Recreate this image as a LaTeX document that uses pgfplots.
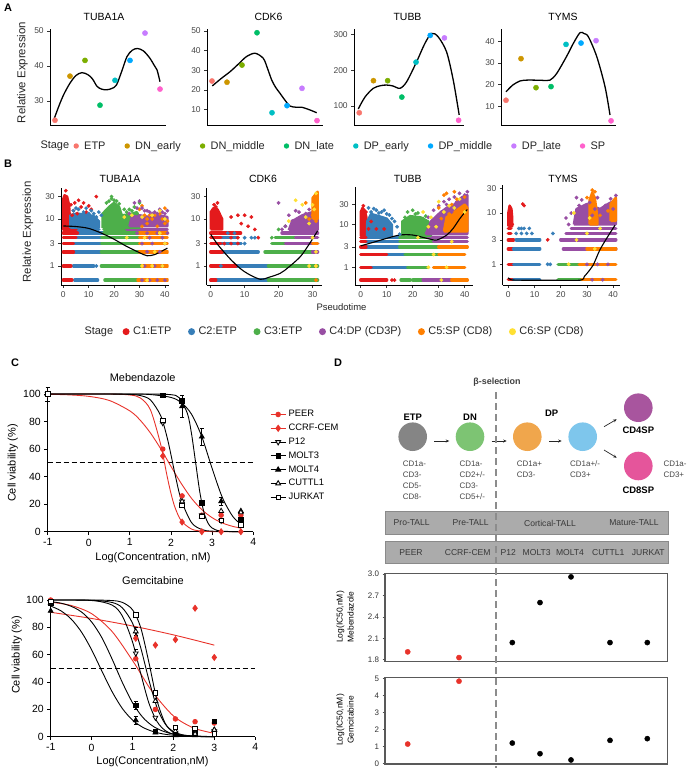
\documentclass[border=0pt]{standalone}
\usepackage{fontspec}
\setmainfont{Liberation Sans}
\usepackage{pgfplots}
\pgfplotsset{compat=1.18}
\usetikzlibrary{arrows.meta}
\newcommand{\fs}[1]{\fontsize{#1}{#1}\selectfont}
\newcommand{\fsl}[2]{\fontsize{#1}{#2}\selectfont}
\newcommand{\legdot}[3]{\addlegendimage{legend image code/.code={\fill[fill=#1, draw=none] (0bp,0bp) circle (#2); \path[draw=none, fill=none] (-#2,0bp) -- (#3,0bp);}}}
% panel A (ggplot hues)
\definecolor{sETP}{HTML}{F8766D}
\definecolor{sDNe}{HTML}{CD9600}
\definecolor{sDNm}{HTML}{7CAE00}
\definecolor{sDNl}{HTML}{00BE67}
\definecolor{sDPe}{HTML}{00BFC4}
\definecolor{sDPm}{HTML}{00A9FF}
\definecolor{sDPl}{HTML}{C77CFF}
\definecolor{sSP}{HTML}{FF61CC}
% panel B (Set1)
\definecolor{cA}{HTML}{E41A1C}
\definecolor{cB}{HTML}{377EB8}
\definecolor{cC}{HTML}{4DAF4A}
\definecolor{cD}{HTML}{984EA3}
\definecolor{cE}{HTML}{FF7F00}
\definecolor{cF}{HTML}{FFE033}
% panel C/D
\definecolor{gred}{HTML}{E8322A}
\definecolor{boxg}{HTML}{ABABAB}
\definecolor{boxb}{HTML}{8A8A8A}
\definecolor{cirETP}{HTML}{858585}
\definecolor{cirDN}{HTML}{7DC473}
\definecolor{cirDP}{HTML}{F0A64C}
\definecolor{cirBL}{HTML}{7EC6EC}
\definecolor{cir4}{HTML}{A8559E}
\definecolor{cir8}{HTML}{E5559B}

\pgfplotsset{
  mybase/.style={scale only axis, axis lines=left, axis line style={-, line width=0.7bp, black},
    tick align=outside, major tick length=2.8bp, tick style={black!80, line width=0.6bp},
    tick label style={font=\fs{8.5}, color=black!72}},
  mypA/.style={mybase, xtick=\empty, clip=false},
  adots/.style={forget plot, scatter, only marks, point meta=explicit symbolic, mark=*, mark size=2.6bp,
    scatter/classes={a={sETP}, b={sDNe}, c={sDNm}, d={sDNl}, e={sDPe}, f={sDPm}, g={sDPl}, h={sSP}}},
  acurve/.style={forget plot, smooth, black, line width=1.3bp, no marks},
  mypB/.style={mybase, ytick={1,3,10,30}, yticklabels={1,3,10,30}},
  band/.style={forget plot, no marks, line width=3.4bp, line cap=round, unbounded coords=jump},
  cloud/.style={forget plot, no marks, line width=2.4bp, line join=round},
  bdot/.style={forget plot, only marks, mark=*, mark size=1.7bp},
  bcurve/.style={forget plot, smooth, black, line width=1.1bp, no marks},
  mypC/.style={mybase, clip=false, xmin=-1, xmax=4, ymin=0, ymax=100, xtick={-1,0,1,2,3,4}, ytick={0,20,40,60,80,100},
    tick label style={font=\fs{10.5}, color=black}, axis line style={line width=1bp}, major tick length=3.5bp,
    tick style={black, line width=0.9bp}},
  ccurve/.style={forget plot, smooth, no marks, line width=0.9bp},
  cpts/.style={forget plot, only marks, line width=0.8bp},
  mypD/.style={scale only axis, axis lines=box, axis line style={line width=1.1bp, black!65}, xtick=\empty,
    ytick pos=left, tick align=outside, major tick length=2.5bp, tick style={black!70, line width=0.7bp},
    tick label style={font=\fs{8}, color=black!80}, xmin=385, xmax=667.3, clip=false},
}
\pgfplotsset{/pgf/number format/assume math mode=true}

\begin{document}
\begin{tikzpicture}
\useasboundingbox (0,0) rectangle (693bp,-772bp);
% ---------- panel letters
\node[font=\bfseries\fs{11}] at (8bp,-8bp) {A};
\node[font=\bfseries\fs{11}] at (8bp,-164bp) {B};
\node[font=\bfseries\fs{11}] at (15bp,-363bp) {C};
\node[font=\bfseries\fs{11}] at (338bp,-363bp) {D};

% ---------- panel A titles / labels
\node[font=\fs{10.5}] at (104bp,-16.7bp) {TUBA1A};
\node[font=\fs{10.5}] at (268.5bp,-16.7bp) {CDK6};
\node[font=\fs{10.5}] at (407.5bp,-16.7bp) {TUBB};
\node[font=\fs{10.5}] at (563bp,-16.7bp) {TYMS};
\node[font=\fs{11.5}, rotate=90, text=black!85] at (22.5bp,-72.5bp) {Relative Expression};
\node[font=\fs{11}, anchor=west, text=black!85] at (37bp,-146bp) {Stage};

% A1 TUBA1A
\begin{axis}[mypA, at={(50bp,-125bp)}, anchor=south west, width=116bp, height=96bp,
  xmin=0.667, xmax=8.4, ymin=23.14, ymax=50.57, ytick={30,40,50},
  legend columns=-1,
  legend style={at={(axis description cs:0.2009,-0.2188)}, anchor=west, draw=none, fill=none, inner sep=0pt,
    font=\fs{11}, nodes={inner xsep=2bp, inner ysep=0bp, text=black!85},
    /tikz/every even column/.append style={column sep=17bp}}]
\addplot[acurve] coordinates {(0.95,25)(1.3,29)(1.6,32)(2,35.1)(2.4,37.3)(2.8,38.1)(3.2,37.5)(3.5,36.3)(3.8,34.2)(4.1,33.4)(4.45,33.2)(4.8,33.6)(5.1,34.6)(5.45,38.5)(5.8,42.7)(6.15,44.5)(6.5,45)(6.9,44.3)(7.33,42.2)(7.6,40.3)(7.8,38.9)(8,35.5)};
\addplot[adots] table[meta=c] {
x y c
1 24.5 a
2 37.1 b
3 41.6 c
4 28.8 d
5 35.9 e
6 41.6 f
7 49.4 g
8 33.4 h
};
\legdot{sETP}{2.7bp}{6bp}\addlegendentry{ETP}
\legdot{sDNe}{2.7bp}{6bp}\addlegendentry{DN\_early}
\legdot{sDNm}{2.7bp}{6bp}\addlegendentry{DN\_middle}
\legdot{sDNl}{2.7bp}{6bp}\addlegendentry{DN\_late}
\legdot{sDPe}{2.7bp}{6bp}\addlegendentry{DP\_early}
\legdot{sDPm}{2.7bp}{6bp}\addlegendentry{DP\_middle}
\legdot{sDPl}{2.7bp}{6bp}\addlegendentry{DP\_late}
\legdot{sSP}{2.7bp}{6bp}\addlegendentry{SP}
\end{axis}

% A2 CDK6
\begin{axis}[mypA, at={(207bp,-125bp)}, anchor=south west, width=116bp, height=96bp,
  xmin=0.667, xmax=8.4, ymin=2.28, ymax=51.0, ytick={10,20,30,40,50}]
\addplot[acurve] coordinates {(1.02,22.1)(1.6,25.8)(2.2,29.3)(2.8,33.5)(3.3,37)(3.87,38.7)(4.42,36.1)(4.7,31)(4.98,25.1)(5.25,21.3)(5.53,18.4)(5.9,14.5)(6.2,11.9)(6.6,11.3)(6.98,11.3)(7.5,10)(7.98,8.5)};
\addplot[adots] table[meta=c] {
x y c
1 24.6 a
2 24.0 b
3 32.7 c
4 49.1 d
5 8.5 e
6 12.1 f
7 20.9 g
8 4.5 h
};
\end{axis}

% A3 TUBB
\begin{axis}[mypA, at={(354bp,-125bp)}, anchor=south west, width=110bp, height=96bp,
  xmin=0.63, xmax=8.38, ymin=46.7, ymax=316, ytick={100,200,300}]
\addplot[acurve] coordinates {(0.93,91.6)(1.4,125)(1.99,149.6)(2.5,157)(2.93,158.8)(3.39,156)(3.87,149.6)(4.34,168)(5.04,224)(5.63,276)(6.1,303.6)(6.56,294)(7.15,252)(7.62,173)(8.04,75)};
\addplot[adots] table[meta=c] {
x y c
1 81 a
2 171 b
3 171 c
4 125 d
5 223 e
6 298 f
7 291 g
8 60 h
};
\end{axis}

% A4 TYMS
\begin{axis}[mypA, at={(501bp,-125bp)}, anchor=south west, width=115bp, height=96bp,
  xmin=0.667, xmax=8.33, ymin=1.37, ymax=45.7, ytick={10,20,30,40}]
\addplot[acurve] coordinates {(1,16.7)(1.45,19.8)(1.93,21.7)(2.4,22.1)(2.82,22.1)(3.4,22)(3.93,22.1)(4.38,25.2)(5.05,33.2)(5.49,39.1)(5.93,44)(6.2,43.6)(6.49,42.1)(7.05,32.9)(7.6,19)(7.93,6)};
\addplot[adots] table[meta=c] {
x y c
1 12.8 a
2 32 b
3 18.6 c
4 19.1 d
5 38.6 e
6 39.2 f
7 40.3 g
8 3.3 h
};
\end{axis}

% ---------- panel B titles / labels
\node[font=\fs{10.5}] at (120bp,-179bp) {TUBA1A};
\node[font=\fs{10.5}] at (263bp,-179bp) {CDK6};
\node[font=\fs{10.5}] at (407.7bp,-179bp) {TUBB};
\node[font=\fs{10.5}] at (563bp,-179bp) {TYMS};
\node[font=\fs{11.5}, rotate=90, text=black!85] at (28bp,-232bp) {Relative Expression};
\node[font=\fs{9.5}, text=black!85] at (341.5bp,-307bp) {Pseudotime};
\node[font=\fs{11}, anchor=west, text=black!85] at (81bp,-331.7bp) {Stage};

% B1 TUBA1A
\begin{axis}[ymode=log, mypB, at={(61bp,-285bp)}, anchor=south west, width=107.7bp, height=97bp,
  xmin=-0.9, xmax=41.5, ymin=0.394, ymax=45.6, xtick={0,10,20,30,40},
  legend columns=-1,
  legend style={at={(axis description cs:0.5700,-0.481)}, anchor=west, draw=none, fill=none, inner sep=0pt,
    font=\fs{11}, nodes={inner xsep=2bp, inner ysep=0bp, text=black!85},
    /tikz/every even column/.append style={column sep=14.6bp}}]
\addplot[band,cB] coordinates {(4.5,0.5)(13.5,0.5)(0,nan)(4,1)(12,1)(0,nan)(4,2)(15,2)(0,nan)(4,3)(15,3)(0,nan)(4,4)(15,4)(0,nan)(4,5)(16,5)(0,nan)(4,6)(14,6)};
\addplot[band,cA] coordinates {(0,0.5)(3.4,0.5)(0,nan)(0,1)(3,1)(0,nan)(0,2)(4,2)(0,nan)(0,3)(4,3)(0,nan)(0,4)(5,4)(0,nan)(0,5)(5.5,5)(0,nan)(0,6)(5,6)};
\addplot[band,cC] coordinates {(16.4,0.5)(29.4,0.5)(0,nan)(15,1)(31,1)(0,nan)(15,2)(30,2)(0,nan)(15,3)(30,3)(0,nan)(15,4)(30,4)(0,nan)(16,5)(30,5)(0,nan)(16,6)(29,6)};
\addplot[band,cE] coordinates {(29.4,0.5)(41,0.5)(0,nan)(31,1)(41,1)(0,nan)(30,2)(41,2)(0,nan)(30,3)(41,3)(0,nan)(30,4)(41,4)(0,nan)(30,5)(41,5)};
\addplot[band,cD] coordinates {(25,6)(41,6)};
\addplot[cloud,draw=cA,fill=cA] coordinates {(0,6)(0,27)(0.5,32)(1.5,30)(2.3,20)(2.6,10)(2.6,6)(0,6)};
\addplot[cloud,draw=cB,fill=cB] coordinates {(2.8,6.5)(2.8,12)(5,13)(9,12.5)(12,11.5)(14,9)(14,6.5)(2.8,6.5)};
\addplot[cloud,draw=cC,fill=cC] coordinates {(15.5,6.5)(15.5,13)(18,18)(20,22)(22,18)(23,12)(26,12.5)(29,14)(30,10)(30,6.5)(15.5,6.5)};
\addplot[cloud,draw=cD,fill=cD] coordinates {(26,7)(27,11)(30,12)(34,11)(38,12)(41,11)(41,7)(26,7)};
\addplot[bdot,cA] coordinates {(3,20)(4,15)(4.5,22)(5.5,13)(6,25)(7,18)(8,22)(9,14)(10,19)(13,30)(1,40)(3.5,12)(11,16)};
\addplot[bdot,cB] coordinates {(4,15)(6,16)(8,14)(10,13)(11,15)(12,13)(13,11)(9,17)(5,17)(15,12)(14,14)(11,0.5)(13,1)};
\addplot[bdot,cC] coordinates {(17,22)(19,30)(20,25)(21,24)(22,21)(18,24)(24,16)(25,14)(26,16)(27,15)(28,18)(29,13)(30,22)(19,27)};
\addplot[bdot,cE] coordinates {(30,16)(31,19)(32,12)(34,12)(36,12)(38,13)(40,17)(33,10)(35,10)(39,10)(41,9)(31,7)(33,8)(37,7)(40,8)};
\addplot[bdot,cD] coordinates {(28,22)(30,24)(31,17)(33,15)(34,14)(36,14)(38,16)(40,13)(41,15)(35,13)(37,13)(39,14)(32,15)(29,17)(26,13)(31,0.5)(34,0.5)(37,0.5)(40,0.5)(32,1)(36,1)(39,1)(33,2)(38,2)(31,3)(35,3)(40,3)(34,4)(39,4)(29,5)(33,5)(37,5)(41,5)};
\addplot[bdot,cF] coordinates {(38,15)(35,12)(40,10)(31,11)(27,12)(24,11)(25,4)(31,1)(35,1)(39,1)(33,0.5)(36,2)(32,4)(38,5)(40,3)};
\addplot[bcurve] coordinates {(0,7.1)(5,6.9)(10,6.3)(15,5.0)(20,3.7)(25,2.6)(30,1.92)(33,1.65)(36,1.75)(39,2.1)(41,2.4)};
\legdot{cA}{3.5bp}{5bp}\addlegendentry{C1:ETP}
\legdot{cB}{3.5bp}{5bp}\addlegendentry{C2:ETP}
\legdot{cC}{3.5bp}{5bp}\addlegendentry{C3:ETP}
\legdot{cD}{3.5bp}{5bp}\addlegendentry{C4:DP (CD3P)}
\legdot{cE}{3.5bp}{5bp}\addlegendentry{C5:SP (CD8)}
\legdot{cF}{3.5bp}{5bp}\addlegendentry{C6:SP (CD8)}
\end{axis}

% B2 CDK6
\begin{axis}[ymode=log, mypB, at={(206.7bp,-285bp)}, anchor=south west, width=115bp, height=97bp,
  xmin=-1.18, xmax=32.7, ymin=0.394, ymax=45.6, xtick={0,10,20,30}]
\addplot[band,cB] coordinates {(1.5,0.5)(17,0.5)(0,nan)(7.4,1)(17,1)(0,nan)(3.4,2)(14,2)(0,nan)(3,3)(9,3)(0,nan)(3,4)(8,4)};
\addplot[band,cA] coordinates {(0,0.5)(1.5,0.5)(0,nan)(0,1)(7.4,1)(0,nan)(0,2)(3.4,2)(0,nan)(0,3)(3,3)(0,nan)(0,4)(3,4)(0,nan)(0,5)(8.8,5)};
\addplot[band,cC] coordinates {(17,0.5)(31.5,0.5)(0,nan)(17,1)(31.5,1)(0,nan)(16,2)(30,2)(0,nan)(18,3)(30,3)(0,nan)(19,4)(27,4)};
\addplot[band,cD] coordinates {(25,4)(31.5,4)(0,nan)(21,5)(31.5,5)(0,nan)(30,2)(31.5,2)(0,nan)(22,3)(31.5,3)};
\addplot[band,cE] coordinates {(30,3)(31.5,3)};
\addplot[cloud,draw=cA,fill=cA] coordinates {(0,6)(0,14)(0.8,17)(2,16)(3.4,10)(3.4,6)(0,6)};
\addplot[cloud,draw=cD,fill=cD] coordinates {(23,5.8)(24,9)(27,12)(30,14)(31.5,14)(31.5,5.8)(23,5.8)};
\addplot[cloud,draw=cE,fill=cE] coordinates {(30,10)(30,28)(31.5,38)(31.5,10)(30,10)};
\addplot[bdot,cA] coordinates {(4,3)(6,3)(8,3)(6,4)(8,4)(2,22)(1.5,18)(1,20)(8,12)(10,12)(9,8)(12,11)(13,6)(14,4)(11,7)(6,11)(3,9)};
\addplot[bdot,cB] coordinates {(5,5)(7,5)(10,4)(12,4)(13,4)(3,1)(10,3)};
\addplot[bdot,cC] coordinates {(20,6)(22,7)(18,4)};
\addplot[bdot,cD] coordinates {(20,22)(23,12)(24,9)(25,15)(27,10)(28,13)(29,12)(26,7)(22,7)(21,6)(29,16)(26,14)};
\addplot[bdot,cE] coordinates {(30,12)(31,15)(30.5,25)(31.3,20)(29,10)(28,22)(31,9)(31.2,30)(31,0.5)(31,1)};
\addplot[bdot,cF] coordinates {(23,9)(25,25)(27,20)(29,8)(30,20)(31,35)(28,11)(30.5,16)(31,1)(29,1)(31,2)(30,4)};
\addplot[bcurve] coordinates {(0,4.7)(2,2.9)(4,1.95)(6,1.35)(8.65,0.89)(11,0.68)(14.6,0.52)(17,0.57)(20.5,0.70)(23,0.95)(26.4,1.58)(29,2.9)(31.5,5.6)};
\end{axis}

% B3 TUBB
\begin{axis}[ymode=log, mypB, at={(355bp,-285bp)}, anchor=south west, width=118.3bp, height=98.3bp,
  xmin=-2.2, xmax=43.3, ymin=0.383, ymax=78.8, xtick={0,10,20,30,40}]
\addplot[band,cB] coordinates {(4,1)(26,1)(0,nan)(10,2)(17,2)(0,nan)(2,3)(15,3)(0,nan)(2,4)(15,4)(0,nan)(2,5)(15,5)};
\addplot[band,cA] coordinates {(0,0.5)(10,0.5)(0,nan)(0,1)(4,1)(0,nan)(0,2)(10,2)(0,nan)(0,3)(2,3)(0,nan)(0,4)(2,4)(0,nan)(0,5)(2,5)};
\addplot[band,cC] coordinates {(15.5,0.5)(19,0.5)(0,nan)(20,0.5)(28,0.5)(0,nan)(17,2)(30,2)(0,nan)(15,3)(30,3)(0,nan)(15,4)(28,4)(0,nan)(15,5)(26,5)(0,nan)(18,1)(26,1)};
\addplot[band,cD] coordinates {(24,0.5)(35,0.5)(0,nan)(28,4)(41,4)(0,nan)(26,5)(41,5)};
\addplot[band,cE] coordinates {(35,0.5)(41,0.5)(0,nan)(28,1)(40,1)(0,nan)(30,2)(40,2)(0,nan)(30,3)(41,3)};
\addplot[cloud,draw=cA,fill=cA] coordinates {(0,5.5)(0,20)(0.7,25)(1.5,22)(2.2,15)(2.2,5.5)(0,5.5)};
\addplot[cloud,draw=cB,fill=cB] coordinates {(2.4,5.5)(2.5,12)(4,18)(7,16)(10,14)(12,10)(12,5.5)(2.4,5.5)};
\addplot[cloud,draw=cC,fill=cC] coordinates {(16,5.5)(16,12)(19,16)(23,15)(26,12)(27,7)(27,5.5)(16,5.5)};
\addplot[cloud,draw=cD,fill=cD] coordinates {(25,6)(27,12)(30,18)(33,25)(36,30)(39,45)(41,50)(41,6)(25,6)};
\addplot[cloud,draw=cE,fill=cE] coordinates {(32,7)(33,15)(36,20)(40,30)(41,25)(41,7)(32,7)};
\addplot[bdot,cA] coordinates {(12,0.5)(13,0.5)(1,28)(2,20)(3,8)(4,12)(6,8)(9,8)};
\addplot[bdot,cB] coordinates {(3,25)(5,24)(6,22)(8,20)(9,22)(10,18)(11,17)(12,14)(13,12)(14,9)(4,20)(7,19)(15,6)};
\addplot[bdot,cC] coordinates {(18,20)(21,18)(24,14)(20,22)(17,15)(25,16)(22,19)};
\addplot[bdot,cD] coordinates {(26,15)(28,22)(30,28)(32,35)(34,40)(36,45)(38,55)(40,50)(41,60)(35,20)(37,35)(39,38)(29,14)(31,20)(33,30)};
\addplot[bdot,cE] coordinates {(30,25)(32,50)(33,55)(35,30)(37,40)(38,22)(40,45)(34,18)(36,60)(31,14)};
\addplot[bdot,cF] coordinates {(24,20)(27,15)(30,35)(32,20)(34,28)(36,25)(38,40)(40,20)(29,9)(26,9)(26,1)(33,1)(28,2)(35,4)(22,5)(31,0.5)};
\addplot[bcurve] coordinates {(0,3.2)(5,3.9)(10,4.8)(15,5.75)(20,5.75)(25.4,4.8)(29.2,4.4)(33.1,5.75)(35.6,8.3)(38.2,14.2)(41,23)};
\end{axis}

% B4 TYMS
\begin{axis}[ymode=log, mypB, at={(502.7bp,-285bp)}, anchor=south west, width=117.3bp, height=100bp,
  xmin=-2.14, xmax=42.6, ymin=0.395, ymax=35.2, xtick={0,10,20,30,40}]
\addplot[band,cA] coordinates {(0,0.5)(2,0.5)(0,nan)(0,1)(2,1)(0,nan)(0,2)(2,2)(0,nan)(0,3)(2,3)(0,nan)(0,4)(1,4)(0,nan)(0,5)(1,5)};
\addplot[band,cB] coordinates {(2,0.5)(12,0.5)(0,nan)(2,1)(12,1)(0,nan)(2,2)(12,2)(0,nan)(3,3)(12,3)};
\addplot[band,cC] coordinates {(19,0.5)(28,0.5)(0,nan)(19,1)(27,1)};
\addplot[band,cD] coordinates {(21,2)(41,2)(0,nan)(20,3)(41,3)(0,nan)(22,4)(41,4)(0,nan)(24,5)(41,5)};
\addplot[band,cE] coordinates {(28,0.5)(41,0.5)(0,nan)(27,1)(41,1)(0,nan)(30,2)(41,2)};
\addplot[cloud,draw=cA,fill=cA] coordinates {(0,5.5)(0,10)(0.5,14)(1.2,12)(1.5,8)(1.5,5.5)(0,5.5)};
\addplot[cloud,draw=cD,fill=cD] coordinates {(25,6)(26,12)(30,15)(35,12)(38,15)(41,18)(41,6)(25,6)};
\addplot[cloud,draw=cE,fill=cE] coordinates {(31,6)(31,18)(32,25)(33,20)(34,8)(34,6)(31,6)};
\addplot[cloud,draw=cE,fill=cE] coordinates {(39,7)(39,15)(41,20)(41,7)(39,7)};
\addplot[bdot,cB] coordinates {(15,1)(16,1)(3,4)(5,4)(7,4)(9,4)(17,4)(4,5)(5,5)(6,5)(8,5)};
\addplot[bdot,cA] coordinates {(15,3)(5.5,15)(6,14)(1.5,6)};
\addplot[bdot,cD] coordinates {(22,8)(24,10)(23,6)(26,20)(27,14)(28,18)(29,11)(31,16)(33,12)(34,20)(36,10)(37,14)(39,19)(40,12)(41,22)(32,9)(30,1)(34,1)(38,1)(32,0.5)(36,0.5)};
\addplot[bdot,cE] coordinates {(30,20)(32,28)(33,26)(35,9)(38,11)(40,16)};
\addplot[bdot,cF] coordinates {(23,1)(33,2)(26,3)(30,4)(35,5)(25,10)(31,8)};
\addplot[bcurve] coordinates {(0,0.55)(1,0.5)(5,0.49)(15,0.49)(27.3,0.49)(29,0.58)(31.1,0.78)(32.4,0.97)(34.9,1.9)(37.5,3.2)(40.7,5.8)};
\end{axis}

% ---------- panel C
\node[font=\fs{11}] at (142.7bp,-378bp) {Mebendazole};
\node[font=\fs{11}] at (153bp,-580.7bp) {Gemcitabine};
\node[font=\fs{11}] at (153bp,-558bp) {Log(Concentration, nM)};
\node[font=\fs{11}] at (152.5bp,-762bp) {Log(Concentration,nM)};
\node[font=\fs{11}, rotate=90] at (12.7bp,-463bp) {Cell viability (\%)};
\node[font=\fs{11}, rotate=90] at (16.7bp,-655bp) {Cell viability (\%)};

\begin{axis}[mypC, at={(47.7bp,-531.7bp)}, anchor=south west, width=205.5bp, height=137.7bp,
  legend image code/.code={\draw[mark repeat=2,mark phase=2,#1] plot coordinates {(0bp,0bp) (7.5bp,0bp) (15bp,0bp)};},
  legend cell align=left,
  legend style={at={(axis description cs:1.0818,0.889)}, anchor=north west, draw=none, fill=none, inner sep=0pt,
    font=\fs{9.4}, row sep=3.8bp, nodes={inner xsep=2.5bp, inner ysep=0.5bp, text height=7bp, text depth=2bp}}]
\addplot[forget plot, black, line width=1bp, dash pattern=on 5bp off 3bp] coordinates {(-1,50)(4,50)};
\addplot[ccurve, gred] coordinates {(-1,99.8)(-0.5,99.4)(0,98.3)(0.5,95.3)(1,87.7)(1.25,81)(1.5,71.7)(1.75,60.2)(2,47.4)(2.25,35)(2.5,24.2)(2.75,16)(3,10.2)(3.25,6.3)(3.5,3.9)(3.7,2.6)};
\addplot[ccurve, gred] coordinates {(-1,100)(0,100)(0.5,100)(1,99.3)(1.25,97.2)(1.5,88.5)(1.75,63.2)(1.9,41.1)(2,27.7)(2.1,17.4)(2.25,7.9)(2.5,1.9)(2.75,0.4)(3,0.1)(3.7,0)};
\addplot[ccurve, black] coordinates {(-1,100)(0,100)(0.5,100)(1,99.7)(1.25,98.9)(1.5,95.7)(1.75,84.2)(1.9,69.1)(2,55.8)(2.1,41.5)(2.25,23)(2.5,6.6)(2.75,1.6)(3,0.4)(3.7,0)};
\addplot[ccurve, black] coordinates {(-1,100)(0,100)(1,100)(1.5,100)(2,99.5)(2.2,97.3)(2.4,85.8)(2.5,71)(2.6,50)(2.7,29)(2.8,14.2)(2.9,6.3)(3,2.7)(3.2,0.5)(3.7,0)};
\addplot[ccurve, black] coordinates {(-1,100)(0,100)(1,100)(1.5,99.6)(2,97.5)(2.25,93.8)(2.5,85.3)(2.75,69)(3,46)(3.25,24.8)(3.5,11.2)(3.7,5.5)};
\addplot[forget plot, black, no marks, draw=none, error bars/.cd, y dir=both, y explicit, error bar style={line width=0.7bp, solid}, error mark options={rotate=90, mark size=2.2bp, line width=0.7bp}]
  coordinates {(-1,100)+-(0,5) (2.27,91)+-(0,8) (2.75,69)+-(0,6) (3.22,22)+-(0,3)};
\addplot[cpts, gred, mark=*, mark size=2.3bp] coordinates {(-1,100)(1.8,60)(2.27,26)(2.75,12)(3.22,12)(3.7,12)};
\addplot[cpts, gred, mark=diamond*, mark size=3bp] coordinates {(-1,100)(1.8,55)(2.27,7)(2.75,0)(3.22,0)(3.7,0)};
\addplot[cpts, black, mark=triangle*, mark size=2.8bp, mark options={rotate=180, fill=white}] coordinates {(-1,100)(1.8,79)(2.27,22)(2.75,12)(3.22,8)(3.7,7)};
\addplot[cpts, black, mark=square*, mark size=2.2bp] coordinates {(-1,100)(1.8,99)(2.27,95)(2.75,21)(3.22,8)(3.7,9)};
\addplot[cpts, black, mark=triangle*, mark size=2.8bp] coordinates {(-1,100)(2.27,91)(2.75,69)(3.22,22)(3.7,15)};
\addplot[cpts, black, mark=triangle*, mark size=2.8bp, mark options={fill=white}] coordinates {(-1,100)(1.8,80)(2.27,22)(2.75,11)(3.22,15)(3.7,14)};
\addplot[cpts, black, mark=square*, mark size=2.2bp, mark options={fill=white}] coordinates {(-1,100)(1.8,81)(2.27,19)(2.75,11)(3.22,8)(3.7,5)};
\addlegendimage{gred, line width=0.9bp, mark=*, mark size=2.3bp}\addlegendentry{PEER}
\addlegendimage{gred, line width=0.9bp, mark=diamond*, mark size=3bp}\addlegendentry{CCRF-CEM}
\addlegendimage{black, line width=0.9bp, mark=triangle*, mark size=2.8bp, mark options={rotate=180, fill=white}}\addlegendentry{P12}
\addlegendimage{black, line width=0.9bp, mark=square*, mark size=2.2bp}\addlegendentry{MOLT3}
\addlegendimage{black, line width=0.9bp, mark=triangle*, mark size=2.8bp}\addlegendentry{MOLT4}
\addlegendimage{black, line width=0.9bp, mark=triangle*, mark size=2.8bp, mark options={fill=white}}\addlegendentry{CUTTL1}
\addlegendimage{black, line width=0.9bp, mark=square*, mark size=2.2bp, mark options={fill=white}}\addlegendentry{JURKAT}
\end{axis}

\begin{axis}[mypC, at={(50.7bp,-736.7bp)}, anchor=south west, width=204.5bp, height=136.7bp]
\addplot[forget plot, black, line width=1bp, dash pattern=on 5bp off 3bp] coordinates {(-1,50)(4,50)};
\addplot[ccurve, gred] coordinates {(-1,98.4)(-0.5,96)(0,90)(0.5,77)(1,55.8)(1.25,43.7)(1.5,32.3)(2,15.2)(2.5,6.3)(3,2.5)};
\addplot[ccurve, gred] coordinates {(-1,91)(0,86.5)(1,81)(2,74.5)(3,67)};
\addplot[ccurve, black] coordinates {(-1,100)(0,100)(0.5,99.6)(0.75,98.3)(1,92.9)(1.2,79.9)(1.4,54.5)(1.6,26.5)(1.8,9.8)(2,3.2)(2.25,0.7)(2.5,0.2)(3,0)};
\addplot[ccurve, black] coordinates {(-1,100)(0,99.8)(0.5,98.2)(0.75,94.3)(1,83.1)(1.2,65.2)(1.4,41.6)(1.6,21.3)(1.8,9.3)(2,3.8)(2.25,1.2)(2.5,0.35)(3,0)};
\addplot[ccurve, black] coordinates {(-1,100)(0,99.65)(0.5,96.3)(0.75,88.4)(1,69.4)(1.2,46.4)(1.4,24.7)(1.6,11.1)(1.8,4.5)(2,1.8)(2.25,0.5)(2.5,0.2)(3,0)};
\addplot[ccurve, black] coordinates {(-1,98.8)(-0.75,97.7)(-0.5,95.4)(-0.25,91.3)(0,84)(0.25,72.5)(0.5,56.9)(0.75,39.8)(1,24.9)(1.25,14.2)(1.5,7.7)(1.75,4.0)(2,2.0)(2.5,0.5)(3,0.1)};
\addplot[ccurve, black] coordinates {(-1,95.6)(-0.75,92.1)(-0.5,86.1)(-0.25,76.7)(0,63.6)(0.25,48.1)(0.5,33)(0.75,20.7)(1,12.2)(1.25,6.9)(1.5,3.8)(1.75,2.0)(2,1.1)(2.5,0.3)(3,0.1)};
\addplot[forget plot, black, no marks, draw=none, error bars/.cd, y dir=both, y explicit, error bar style={line width=0.7bp, solid}, error mark options={rotate=90, mark size=2.2bp, line width=0.7bp}]
  coordinates {(1.08,23)+-(0,3) (1.08,12)+-(0,3) (1.08,77)+-(0,3) (1.08,61)+-(0,3) (1.56,32)+-(0,2)};
\addplot[cpts, gred, mark=*, mark size=2.3bp] coordinates {(-1,100)(1.08,57)(1.56,20)(2.05,13)(2.53,11)(3,10)};
\addplot[cpts, gred, mark=diamond*, mark size=3bp] coordinates {(-1,99)(1.08,72)(1.56,67)(2.05,71)(2.53,94)(3,58)};
\addplot[cpts, black, mark=triangle*, mark size=2.8bp, mark options={rotate=180, fill=white}] coordinates {(-1,98)(1.08,61)(1.56,14)(2.05,3)(2.53,3)(3,4)};
\addplot[cpts, black, mark=square*, mark size=2.2bp] coordinates {(-1,98)(1.08,23)(1.56,4)(2.05,2)(2.53,3)(3,11)};
\addplot[cpts, black, mark=triangle*, mark size=2.8bp] coordinates {(-1,92)(1.08,12)(1.56,3)(2.05,1)(2.53,1)(3,5)};
\addplot[cpts, black, mark=triangle*, mark size=2.8bp, mark options={fill=white}] coordinates {(-1,98)(1.08,77)(1.56,26)(2.05,4)(2.53,2)(3,5)};
\addplot[cpts, black, mark=square*, mark size=2.2bp, mark options={fill=white}] coordinates {(-1,99)(1.08,89)(1.56,32)(2.05,7)(2.53,6)(3,2)};
\end{axis}

% ---------- panel D diagram
\node[font=\bfseries\fs{9}, text=black!75] at (497bp,-382bp) {β-selection};
\fill[cirETP] (412.7bp,-436.7bp) circle (14.3bp);
\fill[cirDN] (470bp,-436.7bp) circle (14.3bp);
\fill[cirDP] (527.3bp,-436.7bp) circle (14.3bp);
\fill[cirBL] (582.7bp,-436.7bp) circle (14.3bp);
\fill[cir4] (638.3bp,-407.7bp) circle (14.3bp);
\fill[cir8] (638.3bp,-466bp) circle (14.3bp);
\node[font=\bfseries\fs{9.5}] at (412.7bp,-417.7bp) {ETP};
\node[font=\bfseries\fs{9.5}] at (470bp,-417.7bp) {DN};
\node[font=\bfseries\fs{9.5}] at (551.7bp,-413.3bp) {DP};
\node[font=\bfseries\fs{9.5}] at (638.3bp,-430bp) {CD4SP};
\node[font=\bfseries\fs{9.5}] at (638.3bp,-490bp) {CD8SP};
\begin{scope}[-{Stealth[length=3.5bp,width=3bp]}, line width=0.7bp, black!85]
\draw (434.3bp,-441bp) -- (449.3bp,-441bp);
\draw (491.7bp,-441bp) -- (506.7bp,-441bp);
\draw (549.3bp,-441bp) -- (561.7bp,-441bp);
\draw (604bp,-426.7bp) -- (616.7bp,-419.3bp);
\draw (604bp,-450bp) -- (616.7bp,-457.7bp);
\end{scope}
\begin{scope}[every node/.style={anchor=north west, align=left, font=\fsl{8}{11}, text=black!72, inner sep=0pt}]
\node at (402.7bp,-461bp) {CD1a-\\CD3-\\CD5-\\CD8-};
\node at (459.3bp,-461bp) {CD1a-\\CD2+/-\\CD3-\\CD5+/-};
\node at (516.7bp,-461bp) {CD1a+\\CD3-};
\node at (570bp,-461bp) {CD1a+/-\\CD3+};
\node at (663.3bp,-461bp) {CD1a-\\CD3+};
\end{scope}
\draw[fill=boxg, draw=boxb, line width=1bp] (385bp,-511bp) rectangle (668.3bp,-534bp);
\draw[fill=boxg, draw=boxb, line width=1bp] (385bp,-541.7bp) rectangle (668.3bp,-563.3bp);
\begin{scope}[every node/.style={font=\fs{8.6}, text=black!78}]
\node at (411.7bp,-523bp) {Pro-TALL};
\node at (470.7bp,-523bp) {Pre-TALL};
\node at (550bp,-523bp) {Cortical-TALL};
\node at (634bp,-523bp) {Mature-TALL};
\node at (411bp,-553bp) {PEER};
\node at (467.7bp,-553bp) {CCRF-CEM};
\node at (508.3bp,-553bp) {P12};
\node at (536.7bp,-553bp) {MOLT3};
\node at (570bp,-553bp) {MOLT4};
\node at (608.3bp,-553bp) {CUTTL1};
\node at (648.3bp,-553bp) {JURKAT};
\end{scope}
\node[font=\fsl{8.5}{11}, rotate=90, align=center] at (345bp,-617bp) {Log(IC50,nM)\\Mebendazole};
\node[font=\fsl{8.5}{11}, rotate=90, align=center] at (345bp,-720bp) {Log(IC50,nM)\\Gemcitabine};

\begin{axis}[mypD, at={(385bp,-661.7bp)}, anchor=south west, width=282.3bp, height=88.4bp,
  ymin=1.772, ymax=3.01, ytick={1.8,2.1,2.4,2.7,3.0}, yticklabels={1.8,2.1,2.4,2.7,3.0}]
\addplot[only marks, mark=*, mark size=2.6bp, gred] coordinates {(407.7,1.91)(459,1.83)};
\addplot[only marks, mark=*, mark size=2.6bp, black] coordinates {(512.3,2.04)(540,2.6)(571,2.96)(610,2.04)(647.3,2.04)};
\end{axis}
\begin{axis}[mypD, at={(385bp,-764bp)}, anchor=south west, width=282.3bp, height=86.7bp,
  ymin=-0.04, ymax=5.09, ytick={0,1,2,3,4,5}]
\addplot[only marks, mark=*, mark size=2.6bp, gred] coordinates {(407.7,1.14)(459,4.86)};
\addplot[only marks, mark=*, mark size=2.6bp, black] coordinates {(512.3,1.2)(540,0.57)(571,0.2)(610,1.36)(647.3,1.46)};
\end{axis}
\draw[black!45, line width=1.1bp, dash pattern=on 7bp off 4bp] (496bp,-392bp) -- (496bp,-768bp);
\end{tikzpicture}
\end{document}
